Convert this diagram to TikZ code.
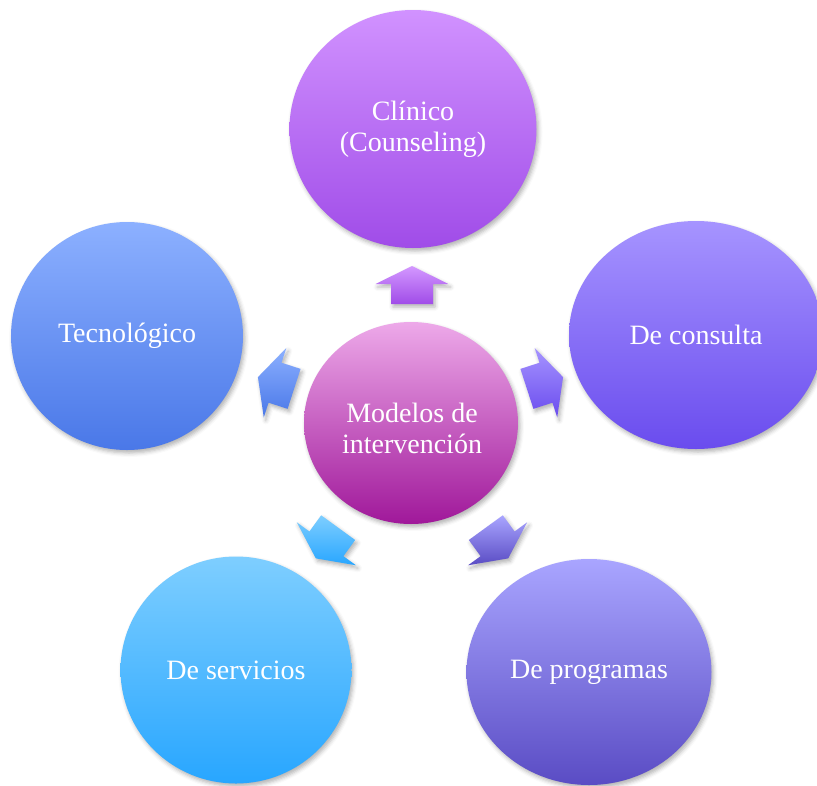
\documentclass[tikz,border=0pt]{standalone}
\usepackage{fontspec}
\setmainfont{Liberation Serif}
\usetikzlibrary{calc,shapes.geometric,shadows.blur}
\definecolor{clinT}{HTML}{D192FF}
\definecolor{clinB}{HTML}{A04CE8}
\definecolor{cenT}{HTML}{EDA9E9}
\definecolor{cenB}{HTML}{A0189A}
\definecolor{tecT}{HTML}{8CB0FF}
\definecolor{tecB}{HTML}{4A78E8}
\definecolor{conT}{HTML}{A694FF}
\definecolor{conB}{HTML}{6A4CEE}
\definecolor{serT}{HTML}{7ECEFF}
\definecolor{serB}{HTML}{28A6FF}
\definecolor{proT}{HTML}{A9A5FF}
\definecolor{proB}{HTML}{5A4CC4}
\newcommand{\blockarr}[3]{%
  \path[arrowfill,#3]
    ($(#1)+({-#2}:19)$)
 -- ($(#1)+({-#2}:1)+({90-#2}:36.5)$)
 -- ($(#1)+({-#2}:1)+({90-#2}:21)$)
 -- ($(#1)+({-#2}:-19)+({90-#2}:21)$)
 -- ($(#1)+({-#2}:-19)+({90-#2}:-21)$)
 -- ($(#1)+({-#2}:1)+({90-#2}:-21)$)
 -- ($(#1)+({-#2}:1)+({90-#2}:-36.5)$)
 -- cycle;}
\begin{document}
\begin{tikzpicture}[x=1pt,y=-1pt,
  softshadow/.style={blur shadow={shadow xshift=2pt,shadow yshift=-3pt,shadow blur radius=4pt,shadow opacity=30}},
  bubble/.style={ellipse, inner sep=0pt, outer sep=0pt, text=white, align=center,
     font=\fontsize{28}{31}\selectfont, softshadow},
  bubbletext/.style={inner sep=0pt, text=white, align=center, font=\fontsize{28}{31}\selectfont},
  arrowfill/.style={softshadow}]
\useasboundingbox (0,0) rectangle (817,785);

\node[bubble, minimum width=247pt, minimum height=238pt, top color=clinT, bottom color=clinB] (clin) at (413,129) {Clínico\\(Counseling)};
\node[bubble, minimum width=232pt, minimum height=228pt, top color=tecT, bottom color=tecB] (tec) at (127,336) {Tecnológico};
\node[bubble, minimum width=254pt, minimum height=228pt, top color=conT, bottom color=conB] (con) at (696,335) {De consulta};
\node[bubble, minimum width=231pt, minimum height=227pt, top color=serT, bottom color=serB] (ser) at (236,670) {De servicios};
\node[bubble, minimum width=245pt, minimum height=226pt, top color=proT, bottom color=proB] (pro) at (589,672) {De programas};
\node[bubble, minimum width=214pt, minimum height=202pt, top color=cenT, bottom color=cenB] (cen) at (411,423) {};
\node[bubbletext] (centxt) at (412,428) {Modelos de\\intervención};

\coordinate (a1) at (412,285);
\coordinate (a2) at (276,383);
\coordinate (a3) at (545,383);
\coordinate (a4) at (327,543);
\coordinate (a5) at (497,543);
\blockarr{a1}{90}{top color=clinT!95!white, bottom color=clinB}
\blockarr{a2}{162}{top color=tecT, bottom color=tecB}
\blockarr{a3}{18}{top color=conT, bottom color=conB}
\blockarr{a4}{234}{top color=serT, bottom color=serB}
\blockarr{a5}{306}{top color=proT, bottom color=proB}
\end{tikzpicture}
\end{document}
